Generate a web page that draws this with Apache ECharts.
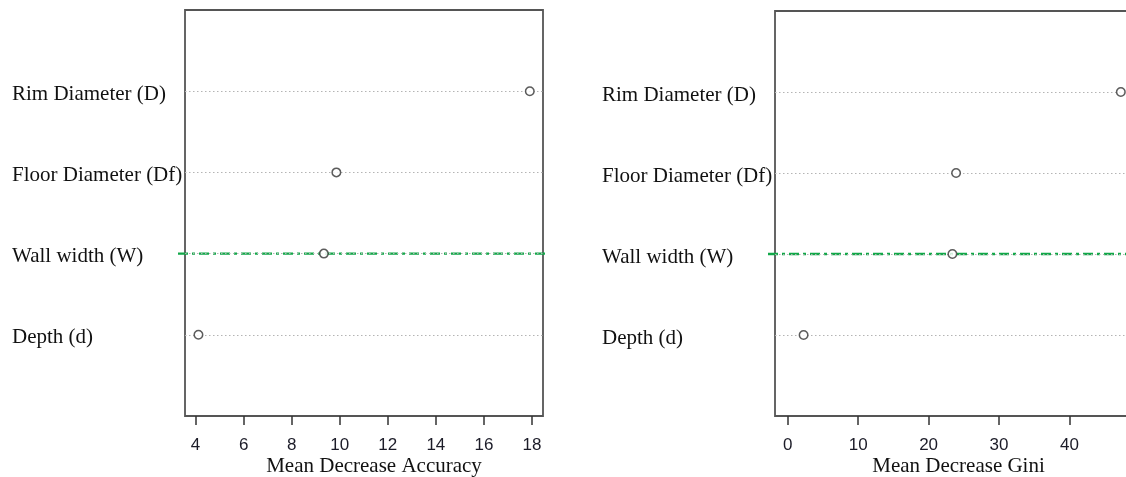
<!DOCTYPE html>
<html>
<head>
<meta charset="utf-8">
<style>
  html, body { margin: 0; padding: 0; background: #ffffff; }
  #chart { width: 1126px; height: 477px; }
</style>
<script src="https://cdn.jsdelivr.net/npm/echarts@6/dist/echarts.min.js"></script>
</head>
<body>
<div id="chart"></div>
<script>
// Variable importance (random forest), rows listed bottom to top
const variables = ['Depth (d)', 'Wall width (W)', 'Floor Diameter (Df)', 'Rim Diameter (D)'];
const meanDecreaseAccuracy = [4.12, 9.34, 9.86, 17.91];
const meanDecreaseGini = [2.26, 23.38, 23.9, 47.28];
const accuracyTicks = [4, 6, 8, 10, 12, 14, 16, 18];
const giniTicks = [0, 10, 20, 30, 40];
const highlightedVariable = 'Wall width (W)';

const serif = '"Liberation Serif", "Times New Roman", serif';
const sans = '"Liberation Sans", Arial, sans-serif';
const rowPositions = variables.map((_, i) => i + 1);

function points(values) {
  return values.map((v, i) => [v, i + 1]);
}

function xAxisFor(gridIndex, min, max, ticks, title, shift) {
  return {
    type: 'value', gridIndex, min, max,
    offset: 3,
    axisLine: { show: false },
    splitLine: { show: false },
    axisTick: { show: true, customValues: ticks, length: 9, lineStyle: { color: '#333', width: 1.5 } },
    axisLabel: { customValues: ticks, margin: 18, color: '#1c1c28', fontFamily: sans, fontSize: 17 },
    name: title, nameLocation: 'middle', nameGap: 37, nameMoveOverlap: false,
    nameTextStyle: { fontFamily: serif, fontSize: 21, color: '#111', padding: [0, 0, 0, shift] }
  };
}

function yAxisFor(gridIndex) {
  return {
    type: 'value', gridIndex, min: 0, max: 5,
    axisLine: { show: false }, axisTick: { show: false }, splitLine: { show: false },
    axisLabel: {
      customValues: rowPositions,
      formatter: v => variables[v - 1] ? '{name|' + variables[v - 1] + '}' : '',
      align: 'left', margin: 173,
      rich: {
        name: { fontFamily: serif, fontSize: 21, color: '#111', padding: [6, 0, 0, 0] }
      }
    }
  };
}

function panelSeries(idx, values) {
  const row = variables.indexOf(highlightedVariable) + 1;
  return [
    {
      type: 'scatter', xAxisIndex: idx, yAxisIndex: idx,
      data: points(values),
      symbol: 'circle', symbolSize: 8.5,
      itemStyle: { color: '#ffffff', borderColor: '#333', borderWidth: 1.5 },
      z: 5,
      markLine: {
        silent: true, symbol: 'none', label: { show: false },
        lineStyle: { color: '#b4b4b4', type: [1.5, 2.5], width: 1 },
        data: rowPositions.map(p => ({ yAxis: p }))
      }
    },
    {
      // dash-dot guide through the highlighted variable, running slightly past the frame
      type: 'custom', xAxisIndex: idx, yAxisIndex: idx,
      clip: false, silent: true, z: 4,
      data: [[row]],
      renderItem: function (params, api) {
        const xs = params.coordSys;
        const y = api.coord([0, api.value(0)])[1];
        return {
          type: 'line',
          shape: { x1: xs.x - 7, y1: y, x2: xs.x + xs.width + 2, y2: y },
          style: { stroke: '#12a849', lineWidth: 2.3, lineDash: [10, 4, 3, 4] }
        };
      }
    }
  ];
}

const gridBase = { show: true, borderColor: '#555', borderWidth: 1.8, backgroundColor: 'transparent', outerBoundsMode: 'none', containLabel: false };

const chart = echarts.init(document.getElementById('chart'), null, { renderer: 'canvas' });
chart.setOption({
  animation: false,
  backgroundColor: '#ffffff',
  grid: [
    Object.assign({ left: 185, top: 10, width: 358, height: 406 }, gridBase),
    Object.assign({ left: 775, top: 11, width: 359, height: 405 }, gridBase)
  ],
  xAxis: [
    xAxisFor(0, 3.56, 18.46, accuracyTicks, 'Mean Decrease Accuracy', 20),
    xAxisFor(1, -1.8, 49.15, giniTicks, 'Mean Decrease Gini', 8)
  ],
  yAxis: [yAxisFor(0), yAxisFor(1)],
  series: [...panelSeries(0, meanDecreaseAccuracy), ...panelSeries(1, meanDecreaseGini)]
});
</script>
</body>
</html>
